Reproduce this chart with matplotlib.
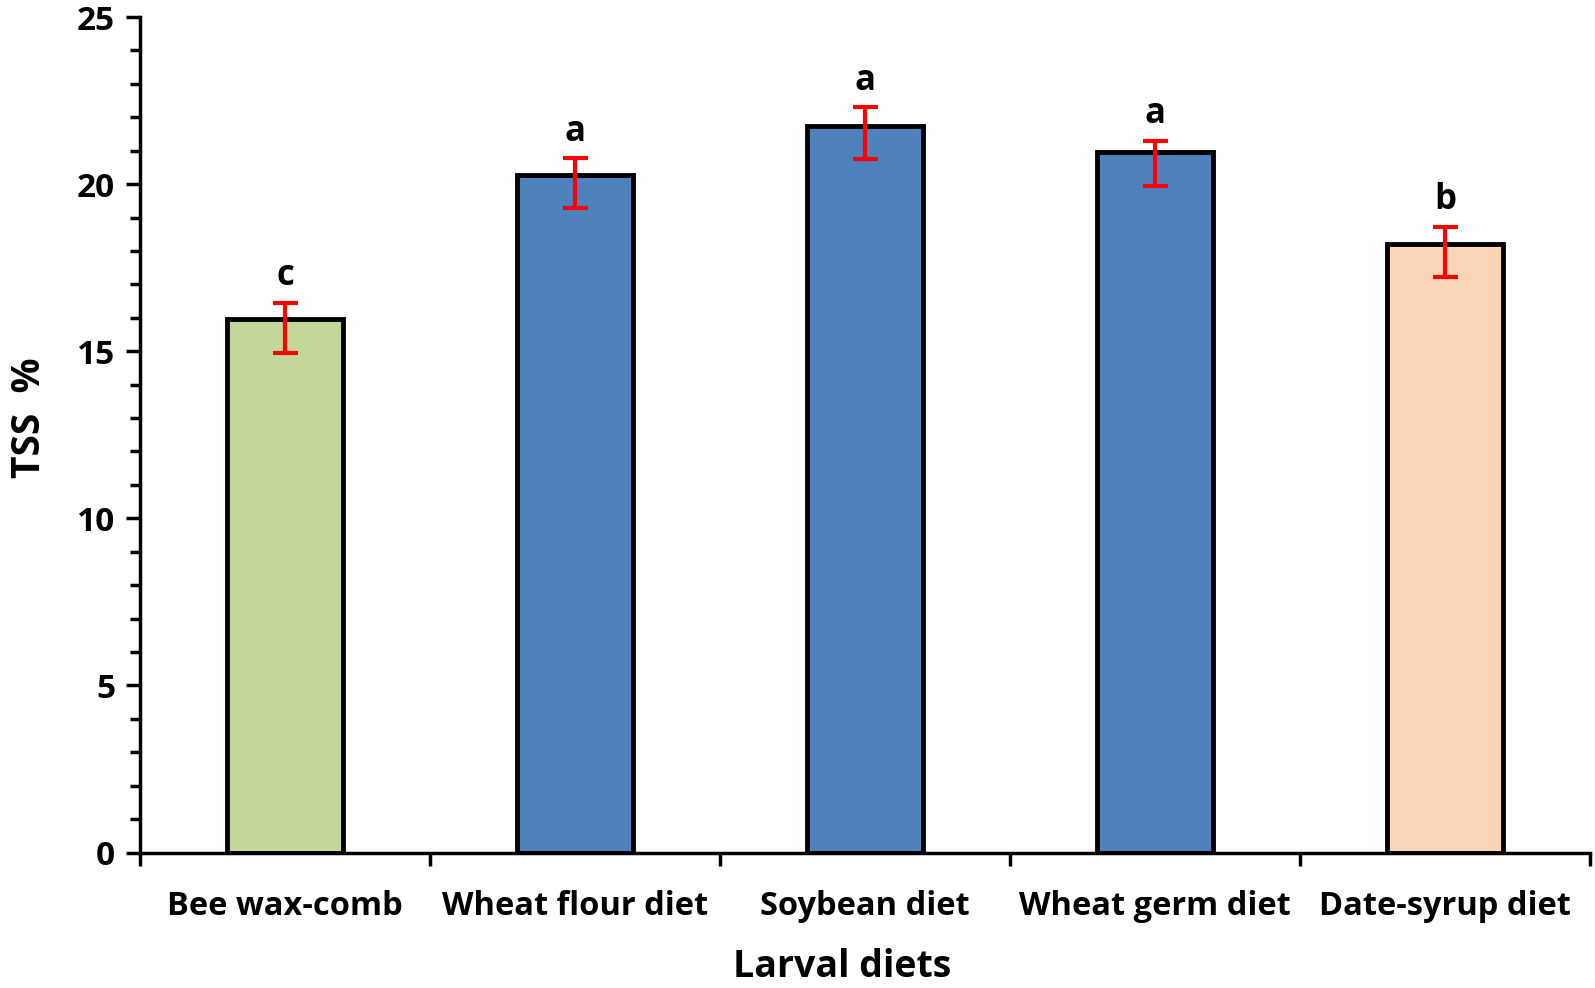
import numpy as np
import matplotlib
matplotlib.use("Agg")
import matplotlib.pyplot as plt
from matplotlib.ticker import MultipleLocator

diets = ["Bee wax-comb", "Wheat flour diet", "Soybean diet", "Wheat germ diet", "Date-syrup diet"]
tss = [15.95, 20.28, 21.75, 20.95, 18.2]
err_low = [1.0, 1.0, 1.0, 1.02, 0.98]
err_high = [0.5, 0.5, 0.56, 0.35, 0.53]
letters = ["c", "a", "a", "a", "b"]
farben = ["#C4D79B", "#4F81BD", "#4F81BD", "#4F81BD", "#FBD5B5"]

plt.rcParams["font.family"] = ["Open Sans", "DejaVu Sans"]
plt.rcParams["font.weight"] = "bold"

fig = plt.figure(figsize=(15.95, 9.88), dpi=100)
ax = fig.add_axes([140 / 1595, 1 - 852.5 / 988, 1450 / 1595, (852.5 - 17) / 988])

x = np.arange(len(diets))
ax.bar(x, tss, width=0.4, color=farben, edgecolor="black", linewidth=3.5, zorder=2)
ax.errorbar(x, tss, yerr=[err_low, err_high], fmt="none", ecolor="#FF0000",
            elinewidth=3, capsize=9, capthick=3, zorder=3)

for xi, wert, hoch, txt in zip(x, tss, err_high, letters):
    ax.text(xi, wert + hoch + 0.25, txt, ha="center", va="bottom",
            fontsize=25, fontweight="bold")

ax.set_xlim(-0.5, len(diets) - 0.5)
ax.set_ylim(0, 25)

ax.set_xticks(x)
ax.set_xticklabels(diets, fontsize=23.5, fontweight="bold")
ax.set_xticks(np.arange(-0.5, len(diets), 1), minor=True)
ax.tick_params(axis="x", which="major", length=0, pad=27)
ax.tick_params(axis="x", which="minor", length=9, width=2.5, direction="out")

ax.yaxis.set_major_locator(MultipleLocator(5))
ax.yaxis.set_minor_locator(MultipleLocator(1))
ax.tick_params(axis="y", which="major", length=10, width=2.5, labelsize=24, pad=8)
ax.tick_params(axis="y", which="minor", length=7, width=2.5)

for name in ["top", "right"]:
    ax.spines[name].set_visible(False)
for name in ["left", "bottom"]:
    ax.spines[name].set_linewidth(2.5)

ax.set_xlabel("Larval diets", fontsize=27, fontweight="bold", labelpad=18)
ax.xaxis.label.set_x(0.484)
ax.set_ylabel("TSS  %", fontsize=28, fontweight="bold", labelpad=20)
ax.yaxis.label.set_y(0.52)

fig.savefig("out.png", dpi=100)
